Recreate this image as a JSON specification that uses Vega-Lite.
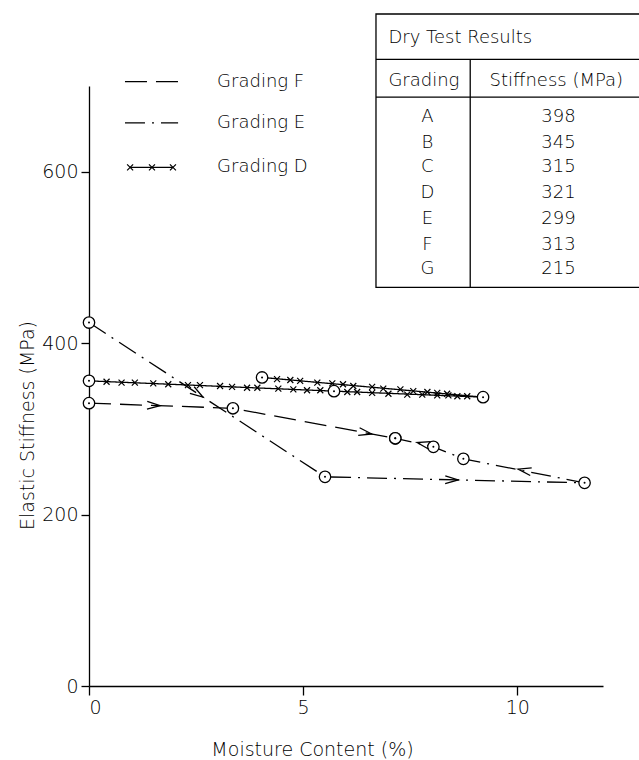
{
  "$schema": "https://vega.github.io/schema/vega-lite/v6.json",
  "width": 514,
  "height": 600,
  "autosize": "none",
  "padding": {"left": 89, "top": 86, "right": 36, "bottom": 74},
  "background": "white",
  "config": {"view": {"stroke": null}, "font": "DejaVu Sans", "text": {"font": "DejaVu Sans", "fontWeight": 300}},
  "datasets": {
    "lines": [
      {"s": "E", "o": 1, "x": 0, "y": 424},
      {"s": "E", "o": 2, "x": 5.51, "y": 244},
      {"s": "E", "o": 3, "x": 11.57, "y": 237},
      {"s": "E", "o": 4, "x": 8.74, "y": 265},
      {"s": "E", "o": 5, "x": 8.04, "y": 279},
      {"s": "E", "o": 6, "x": 7.15, "y": 289},
      {"s": "F", "o": 1, "x": 0, "y": 330},
      {"s": "F", "o": 2, "x": 3.36, "y": 324},
      {"s": "F", "o": 3, "x": 7.15, "y": 289},
      {"s": "D", "o": 1, "x": 0, "y": 356},
      {"s": "D", "o": 2, "x": 5.72, "y": 344},
      {"s": "D", "o": 3, "x": 9.2, "y": 337},
      {"s": "D", "o": 4, "x": 4.04, "y": 360}
    ],
    "arrows": [
      {"x": 2.66, "y": 337, "heading": 33},
      {"x": 1.66, "y": 327, "heading": 2},
      {"x": 6.6, "y": 294, "heading": 10.5},
      {"x": 8.62, "y": 240.4, "heading": 1},
      {"x": 10.02, "y": 253, "heading": 191},
      {"x": 7.66, "y": 284, "heading": 193}
    ],
    "xmarks": [
      {"x": 0.41, "y": 355}, {"x": 0.76, "y": 354}, {"x": 1.07, "y": 354}, {"x": 1.5, "y": 353},
      {"x": 1.85, "y": 352}, {"x": 2.31, "y": 351}, {"x": 2.59, "y": 351}, {"x": 3.06, "y": 350},
      {"x": 3.34, "y": 349}, {"x": 3.69, "y": 348}, {"x": 3.93, "y": 348}, {"x": 4.42, "y": 347},
      {"x": 4.77, "y": 346}, {"x": 5.09, "y": 345}, {"x": 5.4, "y": 345}, {"x": 6.03, "y": 343},
      {"x": 6.26, "y": 343}, {"x": 6.61, "y": 342}, {"x": 6.99, "y": 341}, {"x": 7.43, "y": 340},
      {"x": 7.78, "y": 340}, {"x": 8.13, "y": 339}, {"x": 8.39, "y": 339}, {"x": 8.6, "y": 338},
      {"x": 8.83, "y": 338},
      {"x": 4.39, "y": 358}, {"x": 4.7, "y": 357}, {"x": 4.93, "y": 356}, {"x": 5.33, "y": 354},
      {"x": 5.68, "y": 353}, {"x": 5.93, "y": 352}, {"x": 6.17, "y": 350}, {"x": 6.61, "y": 349},
      {"x": 6.87, "y": 347}, {"x": 7.27, "y": 346}, {"x": 7.57, "y": 344}, {"x": 7.9, "y": 343},
      {"x": 8.13, "y": 342}, {"x": 8.36, "y": 341},
      {"x": 0.96, "y": 605}, {"x": 1.47, "y": 605}, {"x": 1.96, "y": 605}
    ],
    "legendlines": [
      {"s": "F", "x": 0.84, "x2": 2.08, "y": 705},
      {"s": "E", "x": 0.84, "x2": 2.08, "y": 657},
      {"s": "D", "x": 0.96, "x2": 1.96, "y": 605}
    ],
    "legendtext": [
      {"x": 2.99, "y": 705, "t": "Grading   F"},
      {"x": 2.99, "y": 657, "t": "Grading   E"},
      {"x": 2.99, "y": 605, "t": "Grading   D"}
    ],
    "tablebox": [{"x": 6.7, "x2": 12.9, "y": 784, "y2": 465}],
    "tablerules": [
      {"x": 6.7, "x2": 12.9, "y": 731, "y2": 731},
      {"x": 6.7, "x2": 12.9, "y": 687, "y2": 687},
      {"x": 8.9, "x2": 8.9, "y": 731, "y2": 465}
    ],
    "tableleft": [
      {"x": 6.99, "y": 756, "t": "Dry Test Results"},
      {"x": 6.99, "y": 706, "t": "Grading"}
    ],
    "tablecenter": [
      {"x": 10.91, "y": 706, "t": "Stiffness (MPa)"},
      {"x": 7.9, "y": 664, "t": "A"}, {"x": 10.96, "y": 664, "t": "398"},
      {"x": 7.9, "y": 634, "t": "B"}, {"x": 10.96, "y": 634, "t": "345"},
      {"x": 7.9, "y": 605, "t": "C"}, {"x": 10.96, "y": 605, "t": "315"},
      {"x": 7.9, "y": 575, "t": "D"}, {"x": 10.96, "y": 575, "t": "321"},
      {"x": 7.9, "y": 545, "t": "E"}, {"x": 10.96, "y": 545, "t": "299"},
      {"x": 7.9, "y": 515, "t": "F"}, {"x": 10.96, "y": 515, "t": "313"},
      {"x": 7.9, "y": 486, "t": "G"}, {"x": 10.96, "y": 486, "t": "215"}
    ]
  },
  "encoding": {
    "x": {
      "field": "x", "type": "quantitative",
      "scale": {"domain": [0, 12], "nice": false, "zero": false},
      "axis": {
        "values": [0, 5, 10], "title": "Moisture Content (%)", "grid": false,
        "domainColor": "black", "domainWidth": 1.3, "tickColor": "black", "tickWidth": 1.3, "tickSize": 9,
        "labelFontSize": 19, "labelColor": "black", "labelPadding": 3, "labelFont": "DejaVu Sans", "labelFontWeight": 300,
        "titleFontSize": 19, "titleFontWeight": 300, "titleColor": "black", "titleFont": "DejaVu Sans",
        "titleX": 223, "titleY": 69, "titleBaseline": "alphabetic", "titleAlign": "center"
      }
    },
    "y": {
      "field": "y", "type": "quantitative",
      "scale": {"domain": [0, 700], "nice": false, "zero": false},
      "axis": {
        "values": [0, 200, 400, 600], "title": "Elastic Stiffness (MPa)", "grid": false,
        "domainColor": "black", "domainWidth": 1.3, "tickColor": "black", "tickWidth": 1.3, "tickSize": 8,
        "labelFontSize": 19, "labelColor": "black", "labelPadding": 3, "labelFont": "DejaVu Sans", "labelFontWeight": 300,
        "titleFontSize": 19, "titleFontWeight": 300, "titleColor": "black", "titleFont": "DejaVu Sans",
        "titleX": -56, "titleY": 339, "titleBaseline": "alphabetic", "titleAlign": "center", "titleAngle": -90
      }
    }
  },
  "layer": [
    {
      "data": {"name": "lines"},
      "mark": {"type": "line", "color": "black", "strokeWidth": 1.3},
      "encoding": {
        "detail": {"field": "s"},
        "order": {"field": "o", "type": "quantitative"},
        "strokeDash": {"field": "s", "type": "nominal", "scale": {"domain": ["D", "E", "F"], "range": [[1, 0], [20, 7, 2, 7], [22, 9]]}, "legend": null}
      }
    },
    {
      "data": {"name": "legendlines"},
      "mark": {"type": "rule", "color": "black", "strokeWidth": 1.3},
      "encoding": {
        "x2": {"field": "x2"},
        "strokeDash": {"field": "s", "type": "nominal", "scale": {"domain": ["D", "E", "F"], "range": [[1, 0], [20, 7, 2, 7], [22, 9]]}, "legend": null}
      }
    },
    {
      "data": {"name": "xmarks"},
      "mark": {"type": "point", "shape": "M-1,-1L1,1M-1,1L1,-1", "size": 36, "filled": false, "color": "black", "strokeWidth": 1.2, "opacity": 1}
    },
    {
      "data": {"name": "lines"},
      "mark": {"type": "point", "shape": "circle", "size": 130, "filled": true, "fill": "white", "stroke": "black", "strokeWidth": 1.3, "opacity": 1}
    },
    {
      "data": {"name": "lines"},
      "mark": {"type": "point", "shape": "circle", "size": 4, "filled": true, "color": "black", "opacity": 1}
    },
    {
      "data": {"name": "arrows"},
      "mark": {"type": "point", "shape": "M-1,-0.3L0,0L-1,0.3", "size": 676, "filled": false, "color": "black", "strokeWidth": 1.3, "opacity": 1},
      "encoding": {"angle": {"field": "heading", "type": "quantitative", "scale": null}}
    },
    {
      "data": {"name": "legendtext"},
      "mark": {"type": "text", "align": "left", "baseline": "middle", "fontSize": 18, "color": "black"},
      "encoding": {"text": {"field": "t"}}
    },
    {
      "data": {"name": "tablebox"},
      "mark": {"type": "rect", "fill": null, "stroke": "black", "strokeWidth": 1.3},
      "encoding": {"x2": {"field": "x2"}, "y2": {"field": "y2"}}
    },
    {
      "data": {"name": "tablerules"},
      "mark": {"type": "rule", "color": "black", "strokeWidth": 1.3},
      "encoding": {"x2": {"field": "x2"}, "y2": {"field": "y2"}}
    },
    {
      "data": {"name": "tableleft"},
      "mark": {"type": "text", "align": "left", "baseline": "middle", "fontSize": 18, "color": "black"},
      "encoding": {"text": {"field": "t"}}
    },
    {
      "data": {"name": "tablecenter"},
      "mark": {"type": "text", "align": "center", "baseline": "middle", "fontSize": 18, "color": "black"},
      "encoding": {"text": {"field": "t"}}
    }
  ]
}
